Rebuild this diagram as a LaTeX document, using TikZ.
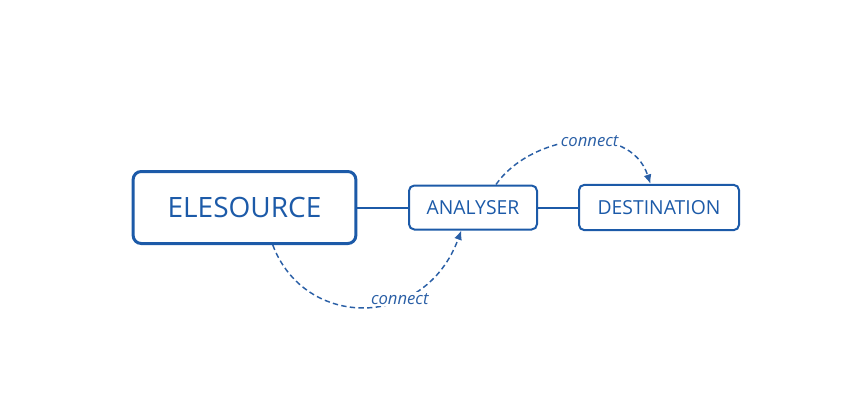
\documentclass[tikz,border=0pt]{standalone}
\usepackage{fontspec}
\setmainfont{Open Sans}
\usetikzlibrary{arrows.meta}
\definecolor{boxblue}{HTML}{1C5AA8}
\definecolor{linkblue}{HTML}{2A5FA6}
\begin{document}
\begin{tikzpicture}[x=0.75pt, y=-0.75pt,
  box/.style={draw=boxblue, rounded corners=4pt, line width=1.5pt, text=boxblue, inner sep=0pt},
  link/.style={-{Latex[length=7pt,width=6pt]}, dashed, dash pattern=on 4pt off 2.5pt, line width=1.1pt, draw=linkblue},
  tag/.style={font=\itshape\fontsize{12.5}{14}\selectfont, text=linkblue, fill=white, inner sep=1pt}]
  \useasboundingbox (0,0) rectangle (846,411);
  % Boxes
  \node[box, line width=2.25pt, rounded corners=6pt, minimum width=167pt, minimum height=54pt,
        font=\fontsize{21}{24}\selectfont] (src) at (244.5,207.5) {ELESOURCE};
  \node[box, minimum width=96pt, minimum height=33pt, font=\fontsize{14.5}{16}\selectfont] (ana) at (473,207.5) {ANALYSER};
  \node[box, minimum width=120pt, minimum height=34pt, font=\fontsize{14.5}{16}\selectfont] (dst) at (659,207.5) {DESTINATION};

  % Wires
  \draw[boxblue, line width=1.5pt] (src.east) -- (ana.west);
  \draw[boxblue, line width=1.5pt] (ana.east) -- (dst.west);

  % Connect arrows
  \draw[link] (src.-53) .. controls (305,330) and (425,330) .. node[tag, pos=0.65] {connect} (ana.-117);
  \draw[link] (ana.45) .. controls (530,135) and (630,120) .. node[tag, pos=0.56] {connect} (dst.110);
\end{tikzpicture}
\end{document}
